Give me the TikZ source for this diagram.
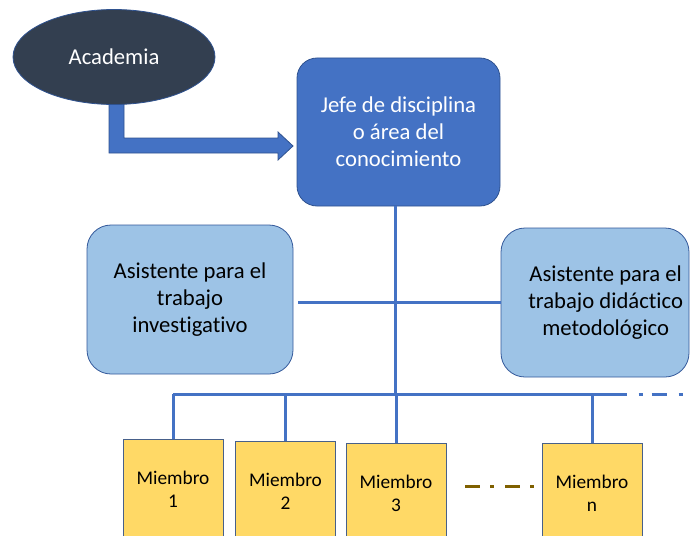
\documentclass[tikz,border=0pt]{standalone}
\usepackage{fontspec}
\setmainfont{Carlito}[Ligatures=NoCommon]
\usepackage{xcolor}
\usetikzlibrary{calc, shapes.geometric, positioning}

\definecolor{grisOscuro}{HTML}{333F50}
\definecolor{azulJefe}{HTML}{4472C4}
\definecolor{azulBorde}{HTML}{2F528F}
\definecolor{azulClaro}{HTML}{9DC3E6}
\definecolor{amarillo}{HTML}{FFD966}
\definecolor{cafe}{HTML}{7F6000}

\tikzset{
  academia/.style={ellipse, fill=grisOscuro, draw=azulBorde, line width=0.6pt,
    minimum width=151.5pt, minimum height=71.25pt, inner sep=0pt, text=white,
    font=\fontsize{17pt}{20.25pt}\selectfont},
  jefe/.style={rectangle, rounded corners=15pt, fill=azulJefe, draw=azulBorde,
    line width=0.6pt, minimum width=152.25pt, minimum height=111pt, text=white,
    align=center, font=\fontsize{17pt}{20.25pt}\selectfont},
  asistente/.style={rectangle, rounded corners=18pt, fill=azulClaro, draw=azulBorde!80!azulJefe,
    line width=0.6pt, minimum height=111.75pt, align=center,
    font=\fontsize{17pt}{20.25pt}\selectfont},
  miembro/.style={rectangle, fill=amarillo, draw=azulBorde!70!gray, line width=0.6pt,
    minimum width=75pt, minimum height=75pt, align=center,
    font=\fontsize{14.5pt}{17.25pt}\selectfont},
  linea/.style={azulJefe, line width=2.25pt},
  flecha/.style={fill=azulJefe, draw=azulBorde, line width=0.6pt}
}

\begin{document}
\begin{tikzpicture}[x=0.75pt, y=-0.75pt]
    \useasboundingbox (0,0) rectangle (691,535);
    \clip (0,0) rectangle (691,535);
    % =================================================================
    % 1. Flecha de la academia al jefe
    % =================================================================
    \draw[flecha] (109,98) -- (109,153) -- (278,153) -- (278,160) -- (293,146)
        -- (278,132) -- (278,138) -- (124,138) -- (124,98) -- cycle;
    \node[academia] (acad) at (114,57) {Academia};

    % Jefe y asistentes
    \node[jefe] (jefe) at (398.5,132) {Jefe de disciplina\\o área del\\conocimiento};
    \node[asistente, minimum width=154.5pt] (asisI) at (190,299.5)
        {Asistente para el\\trabajo\\investigativo};
    \node[asistente, minimum width=141pt] (asisD) at (595,302.5) {};
    \node[align=center, font=\fontsize{17pt}{20.25pt}\selectfont] (textoD)
        at ([xshift=8]asisD.center) {Asistente para el\\trabajo didáctico\\metodológico};

    % Miembros
    \node[miembro] (m1) at (173,489) {Miembro\\1};
    \node[miembro] (m2) at (285.5,491) {Miembro\\2};
    \node[miembro] (m3) at (396,493) {Miembro\\3};
    \node[miembro] (mn) at (592,493) {Miembro\\n};

    % =================================================================
    % 2. Conectores
    % =================================================================
    \coordinate (cruce) at (395,394);
    \draw[linea] (cruce |- jefe.south) -- (cruce);
    \draw[linea, shorten <=3.75pt] (asisI.east |- asisD.west) -- (asisD.west);
    \draw[linea] (m1.north |- cruce) -- ([xshift=26]mn.north |- cruce);
    \draw[linea, dash pattern={on 11.25pt off 9pt on 3pt off 6.75pt}, dash phase=11.25pt]
        ([xshift=26]mn.north |- cruce) -- (691,394);
    \foreach \m in {m1, m2, m3, mn}
        \draw[linea] (\m.north) -- (\m.north |- cruce);

    % Puntos suspensivos entre miembros
    \draw[cafe, line width=2.25pt, dash pattern={on 11.25pt off 7.5pt on 3pt off 8.25pt}]
        ($(m3.east)+(19,-7)$) -- ($(mn.west)+(-6,-7)$);
\end{tikzpicture}
\end{document}
